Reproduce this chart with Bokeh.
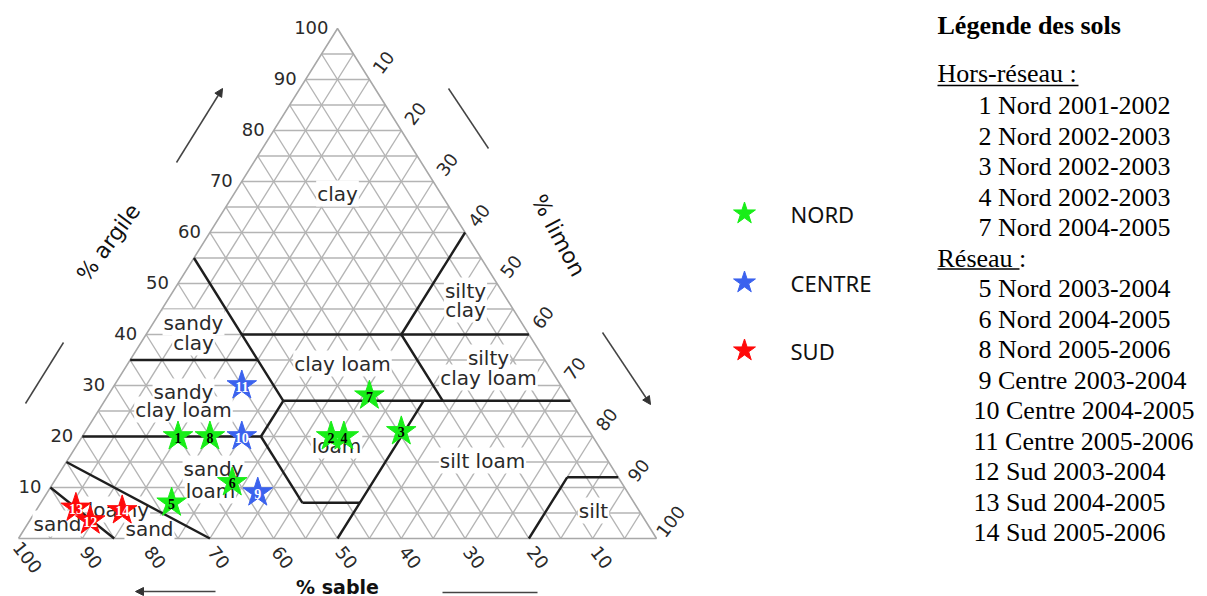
import numpy as np
from bokeh.plotting import figure
from bokeh.models import Range1d, Arrow, NormalHead
from bokeh.core.properties import value
from bokeh.embed import file_html
from bokeh.resources import INLINE

# ---------------- data ----------------
sample_ids = ["1", "2", "3", "4", "5", "6", "7", "8", "9", "10", "11", "12", "13", "14"]
sample_sand = [65, 41, 29.5, 39, 72.5, 61, 31, 60, 58, 55, 50, 87, 88, 81]
sample_clay = [20, 20, 21, 20, 7, 11, 28, 20, 9, 20, 30, 3.5, 6, 5.5]
sample_zone = ["NORD", "NORD", "NORD", "NORD", "NORD", "NORD", "NORD", "NORD",
               "CENTRE", "CENTRE", "CENTRE", "SUD", "SUD", "SUD"]

zone_names = ["NORD", "CENTRE", "SUD"]
zone_colors = ["#18ee18", "#3b62ee", "#ff0a0a"]
zone_text_colors = ["black", "white", "white"]

tick_values = [10, 20, 30, 40, 50, 60, 70, 80, 90, 100]
grid_values = list(range(5, 100, 5))

# USDA class boundaries as (sand, clay) -> (sand, clay)
boundary_start = [(45, 55), (45, 40), (65, 35), (45, 27), (80, 20), (52, 20), (52, 7),
                  (50, 0), (45, 27), (20, 27), (20, 40), (20, 0), (8, 12), (85, 15), (90, 10)]
boundary_end = [(45, 27), (0, 40), (45, 35), (52, 20), (52, 20), (52, 7), (43, 7),
                (23, 27), (0, 27), (20, 40), (0, 60), (8, 12), (0, 12), (70, 0), (85, 0)]

class_label_lines = ["clay", "silty", "clay", "sandy", "clay", "clay loam", "silty", "clay loam",
                     "sandy", "clay loam", "loam", "silt loam", "sandy", "loam", "loamy", "sand",
                     "sand", "silt"]

legend_title = "Légende des sols"
group_titles = ["Hors-réseau :", "Réseau :"]
hors_reseau_entries = ["1 Nord 2001-2002", "2 Nord 2002-2003", "3 Nord 2002-2003",
                       "4 Nord 2002-2003", "7 Nord 2004-2005"]
reseau_entries = ["5 Nord 2003-2004", "6 Nord 2004-2005", "8 Nord 2005-2006",
                  "9 Centre 2003-2004", "10 Centre 2004-2005", "11 Centre 2005-2006",
                  "12 Sud 2003-2004", "13 Sud 2004-2005", "14 Sud 2005-2006"]

# ---------------- geometry helpers ----------------
X0, Y0 = 18.0, 538.0     # page pixel of the 100 % sand corner
SX, SY = 6.38, 5.1       # page pixels per percent (horizontal, vertical)


def tern(sand, clay):
    sand = np.asarray(sand, dtype=float)
    clay = np.asarray(clay, dtype=float)
    silt = 100.0 - sand - clay
    return silt + clay / 2.0, clay


def page(px, py):
    return (np.asarray(px, dtype=float) - X0) / SX, (Y0 - np.asarray(py, dtype=float)) / SY


W, H = 1207, 596
p = figure(width=W, height=H, output_backend="svg", toolbar_location=None,
           x_axis_location=None, y_axis_location=None, min_border=0,
           x_range=Range1d((0 - X0) / SX, (W - X0) / SX),
           y_range=Range1d((Y0 - H) / SY, Y0 / SY))
p.outline_line_color = None
p.grid.grid_line_color = None
p.background_fill_color = "white"

# ---------------- grid ----------------
gx, gy = [], []
for k in grid_values:
    a = tern([100 - k, 0], [k, k]); gx.append(list(a[0])); gy.append(list(a[1]))
    a = tern([k, k], [0, 100 - k]); gx.append(list(a[0])); gy.append(list(a[1]))
    a = tern([100 - k, 0], [0, 100 - k]); gx.append(list(a[0])); gy.append(list(a[1]))
p.multi_line(gx, gy, line_color="#b4b4b4", line_width=1.4)
ex, ey = tern([100, 0, 0, 100], [0, 0, 100, 0])
p.line(ex, ey, line_color="#a8a8a8", line_width=1.6)

# ---------------- class labels (white background breaks the grid) ----------------
label_px = [337, 465, 465, 193, 193, 342, 488, 488, 183, 183, 336, 482, 213, 210, 118, 149, 57, 593]
label_py = [193, 290, 309, 322, 342, 363, 357, 377, 391, 409, 445, 460, 468, 490, 509, 528, 523, 510]
lx, ly = page(label_px, label_py)
label_style = dict(text_align="center", text_baseline="middle",
                   text_font=value("DejaVu Sans"), text_font_size="20px")
p.text(lx, ly, text=class_label_lines, text_alpha=0, background_fill_color="white",
       padding=1, **label_style)
p.text(lx, ly, text=class_label_lines, text_color="#2a2a2a", **label_style)

# ---------------- class boundaries ----------------
bs = np.array(boundary_start, dtype=float)
be = np.array(boundary_end, dtype=float)
x0b, y0b = tern(bs[:, 0], bs[:, 1])
x1b, y1b = tern(be[:, 0], be[:, 1])
p.segment(x0b, y0b, x1b, y1b, line_color="#1e1e1e", line_width=2.4)

# ---------------- axis tick labels ----------------
tv = np.array(tick_values, dtype=float)
tick_style = dict(text_baseline="middle", text_font=value("DejaVu Sans"),
                  text_font_size="18px", text_color="#2a2a2a")
cx, cy = tern(100 - tv, tv)     # left edge (clay)
p.text(cx, cy, text=[str(int(v)) for v in tv], x_offset=-9, y_offset=-1,
       text_align="right", **tick_style)
sx_, sy_ = tern(tv, np.zeros_like(tv))   # bottom edge (sand)
p.text(sx_, sy_, text=[str(int(v)) for v in tv], x_offset=9, y_offset=19, angle=-0.9,
       text_align="center", **tick_style)
rx, ry = tern(np.zeros_like(tv), 100 - tv)   # right edge (silt)
p.text(rx, ry, text=[str(int(v)) for v in tv], x_offset=14, y_offset=-17, angle=0.92,
       text_align="center", **tick_style)

# ---------------- axis titles and arrows ----------------
t = page([108, 558, 337], [242, 235, 586])
p.text(t[0][:2], t[1][:2], text=["% argile", "% limon"], angle=[0.93, -1.08],
       text_align="center", text_baseline="middle", text_font=value("DejaVu Sans"),
       text_font_size="22px", text_color="#111111")
p.text(t[0][2:], t[1][2:], text=["% sable"], text_align="center", text_baseline="middle",
       text_font=value("DejaVu Sans"), text_font_style="bold", text_font_size="19px",
       text_color="#111111")

seg_a = page([25, 448, 442], [403, 88, 592])
seg_b = page([63, 488, 537], [342, 148, 592])
p.segment(seg_a[0], seg_a[1], seg_b[0], seg_b[1], line_color="#444444", line_width=1.5)
arr_s = page([176, 602, 215], [162, 332, 591])
arr_e = page([222, 650, 135], [88, 404, 591])
for i in range(3):
    p.add_layout(Arrow(end=NormalHead(size=8, fill_color="#333333", line_color="#333333"),
                       x_start=float(arr_s[0][i]), y_start=float(arr_s[1][i]),
                       x_end=float(arr_e[0][i]), y_end=float(arr_e[1][i]),
                       line_color="#444444", line_width=1.5))

# ---------------- samples ----------------
zone_color_map = dict(zip(zone_names, zone_colors))
zone_text_map = dict(zip(zone_names, zone_text_colors))
mx, my = tern(sample_sand, sample_clay)
p.scatter(mx, my, marker="star", size=31,
          fill_color=[zone_color_map[z] for z in sample_zone],
          line_color=[zone_color_map[z] for z in sample_zone], line_width=1)
p.text(mx, my, text=sample_ids, x_offset=0, y_offset=1, text_align="center",
       text_baseline="middle", text_font=value("Liberation Serif"), text_font_size="14px",
       text_font_style="bold", text_color=[zone_text_map[z] for z in sample_zone])

# ---------------- zone legend ----------------
zl = page([744] * 3, [213, 282, 350])
p.scatter(zl[0], zl[1], marker="star", size=23, fill_color=zone_colors, line_color=zone_colors)
zt = page([790] * 3, [213, 282, 350])
p.text(zt[0], zt[1], text=zone_names, text_align="left", text_baseline="middle",
       text_font=value("Noto Sans"), text_font_size="22px", text_color="#111111")

# ---------------- soil legend ----------------
serif = dict(text_align="left", text_baseline="middle", text_font=value("Liberation Serif"),
             text_font_size="26px", text_color="black")
row_y = lambda r: 105 + r * 30.5
tt = page([937], [25])
p.text(tt[0], tt[1], text=[legend_title], text_font_style="bold", **serif)
gt = page([937, 937], [73, row_y(5)])
p.text(gt[0], gt[1], text=group_titles, **serif)
ul_a = page([937, 937], [85, row_y(5) + 11])
ul_b = page([1078, 1019], [85, row_y(5) + 11])
p.segment(ul_a[0], ul_a[1], ul_b[0], ul_b[1], line_color="black", line_width=1.4)

entries = hors_reseau_entries + reseau_entries
rows = list(range(0, 5)) + list(range(6, 15))
ex_px = [978 if len(e.split()[0]) == 1 else 973 for e in entries]
ey_px = [row_y(r) for r in rows]
et = page(ex_px, ey_px)
p.text(et[0], et[1], text=entries, **serif)

open("out.html", "w").write(file_html(p, INLINE))
